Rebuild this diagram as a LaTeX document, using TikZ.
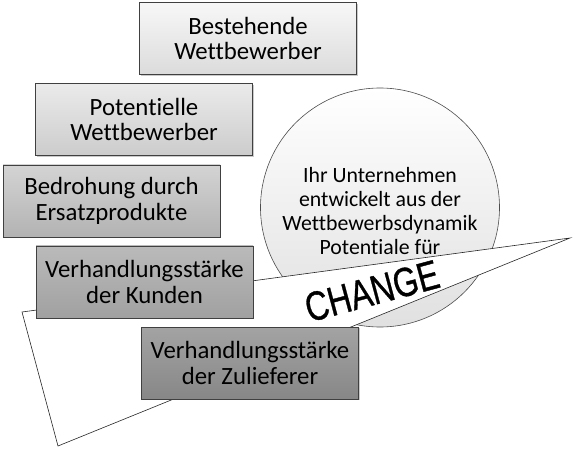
\documentclass[tikz,border=0pt]{standalone}
\usepackage{fontspec}
\setmainfont[Ligatures={NoCommon}]{Carlito}
\newfontfamily\changefont[FakeBold=0.9]{Liberation Sans}
\usetikzlibrary{shadows}
\tikzset{
  forcebox/.style={draw=black!75, line width=0.6pt, minimum width=217pt, minimum height=72pt,
    inner sep=0pt, align=center, font=\fontsize{24.8}{25.5}\selectfont,
    drop shadow={shadow xshift=1.2pt, shadow yshift=-1.2pt, opacity=0.35, fill=black!60}},
  core/.style={circle, draw=black!70, line width=0.6pt, minimum size=239pt, inner sep=0pt,
    top color=white, bottom color=black!12},
  coretext/.style={align=center, font=\fontsize{21.8}{24.2}\selectfont},
  changetext/.style={font=\changefont\fontsize{32}{32}\selectfont, rotate=15, yscale=1.28, inner sep=0pt},
  wedge/.style={draw=black!85, line width=0.6pt, fill=white, line join=miter}
}
\begin{document}
\begin{tikzpicture}[x=1pt, y=-1pt]
\useasboundingbox (0,0) rectangle (573,449);
% core circle
\node[core] (core) at (380,207.5) {};
\node[coretext] (coretxt) at (380,211) {Ihr Unternehmen\\entwickelt aus der\\Wettbewerbsdynamik\\Potentiale für};
% change wedge
\coordinate (tip) at (570,238);
\coordinate (left) at (22,312);
\coordinate (bottom) at (58,446);
\draw[wedge] (tip) -- (left) -- (bottom) -- cycle;
\node[changetext] (change) at (372,291) {CHANGE};
% forces
\node[forcebox, top color=black!3, bottom color=black!14] (b1) at (248,38.5) {Bestehende\\Wettbewerber};
\node[forcebox, top color=black!8, bottom color=black!20] (b2) at (144,119.5) {Potentielle\\Wettbewerber};
\node[forcebox, top color=black!17, bottom color=black!30] (b3) at (111.5,201) {Bedrohung durch\\Ersatzprodukte};
\node[forcebox, top color=black!27, bottom color=black!37] (b4) at (144.5,282) {Verhandlungsstärke\\der Kunden};
\node[forcebox, top color=black!36, bottom color=black!47] (b5) at (250,363) {Verhandlungsstärke\\der Zulieferer};
\end{tikzpicture}
\end{document}
